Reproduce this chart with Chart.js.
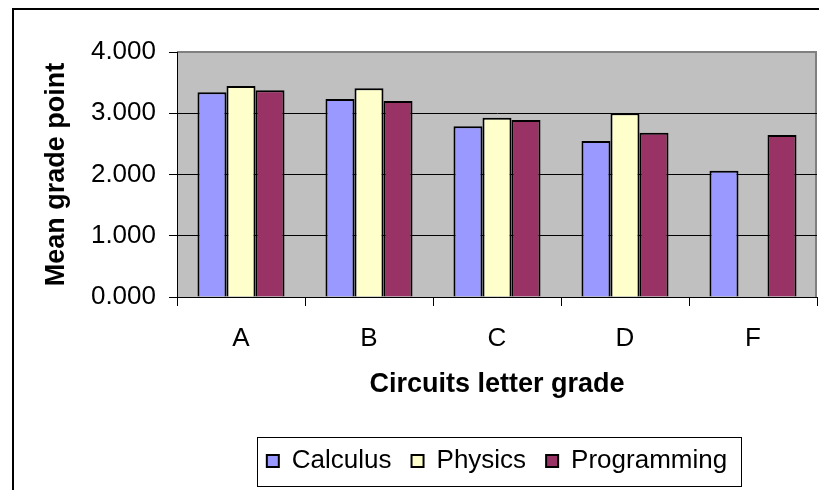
<!DOCTYPE html>
<html><head><meta charset="utf-8">
<script src="https://cdn.jsdelivr.net/npm/chart.js@4"></script>
<style>html,body{margin:0;padding:0;background:#fff;overflow:hidden}canvas{display:block}</style>
</head><body>
<canvas id="c" width="819" height="490"></canvas>
<script>
const categories = ['A', 'B', 'C', 'D', 'F'];
const seriesNames = ['Calculus', 'Physics', 'Programming'];
const calculus = [3.342, 3.233, 2.787, 2.547, 2.062];
const physics = [3.445, 3.407, 2.927, 3.000, null];
const programming = [3.374, 3.200, 2.890, 2.683, 2.645];
const yTicks = [0, 1, 2, 3, 4];
const xTitle = 'Circuits letter grade';
const yTitle = 'Mean grade point';

const FONT = "'Liberation Sans', Arial, sans-serif";

const frame = {
  id: 'frame',
  beforeDraw(c) {
    const ctx = c.ctx;
    const a = c.chartArea;
    ctx.save();
    ctx.fillStyle = '#fff'; ctx.fillRect(0, 0, c.width, c.height);
    ctx.fillStyle = '#000'; ctx.fillRect(12, 8, 2, c.height); ctx.fillRect(12, 8, c.width, 2);
    ctx.fillStyle = '#C0C0C0'; ctx.fillRect(a.left, a.top, a.right - a.left, a.bottom - a.top);
    ctx.strokeStyle = '#808080'; ctx.lineWidth = 2;
    ctx.beginPath(); ctx.moveTo(a.left, a.top); ctx.lineTo(a.right - 1, a.top); ctx.lineTo(a.right - 1, a.bottom); ctx.stroke();
    ctx.restore();
  },
  afterDraw(c) {
    const hb = c.legend && c.legend.legendHitBoxes;
    if (!hb || !hb.length) return;
    const ctx = c.ctx;
    const l = hb[0].left - 10, r = hb[hb.length - 1].left + hb[hb.length - 1].width + 14;
    const cy = hb[0].top + hb[0].height / 2;
    ctx.save(); ctx.strokeStyle = '#000'; ctx.lineWidth = 1;
    ctx.strokeRect(Math.round(l) + 0.5, Math.round(cy - 24) + 0.5, Math.round(r - l), 49);
    ctx.restore();
  }
};

const tickFont = { family: FONT, size: 26 };
const titleFont = { family: FONT, size: 27, weight: 'bold', lineHeight: 1 };

new Chart(document.getElementById('c'), {
  type: 'bar',
  data: {
    labels: categories,
    datasets: [
      { label: seriesNames[0], data: calculus, backgroundColor: '#9999FF' },
      { label: seriesNames[1], data: physics, backgroundColor: '#FFFFCC' },
      { label: seriesNames[2], data: programming, backgroundColor: '#993366' }
    ]
  },
  options: {
    responsive: false, animation: false, devicePixelRatio: 1,
    layout: { padding: { left: 10, top: 52, right: 2, bottom: 6 } },
    datasets: { bar: { categoryPercentage: 0.68, barPercentage: 1, borderColor: '#000', borderWidth: 2, borderSkipped: 'start' } },
    plugins: {
      legend: {
        position: 'bottom', fullSize: false,
        labels: { font: tickFont, color: '#000', boxWidth: 12, boxHeight: 12, padding: 20 }
      },
      tooltip: { enabled: false }
    },
    scales: {
      x: {
        grid: { display: true, drawOnChartArea: false, drawTicks: true, tickLength: 9, color: '#000', offset: true },
        border: { display: true, color: '#000', width: 1 },
        ticks: { font: tickFont, color: '#000', padding: 17 },
        title: { display: true, text: xTitle, font: titleFont, color: '#000', padding: { top: 0, bottom: 29.5 } },
        afterFit(s) { s.height = 131; }
      },
      y: {
        min: 0, max: 4,
        afterBuildTicks(s) { s.ticks = yTicks.map(v => ({ value: v })); },
        ticks: { font: tickFont, color: '#000', padding: 13, callback: v => Number(v).toFixed(3) },
        grid: { color: ctx => (ctx.tick && ctx.tick.value === 4) ? '#808080' : '#000', tickColor: '#000', tickLength: 8, lineWidth: 1 },
        border: { display: true, color: '#000', width: 1 },
        title: { display: true, text: yTitle, font: titleFont, color: '#000', padding: { top: 33.5, bottom: 0 } },
        afterFit(s) { s.width = 177 - 10; }
      }
    }
  },
  plugins: [frame]
});
</script>
</body></html>
